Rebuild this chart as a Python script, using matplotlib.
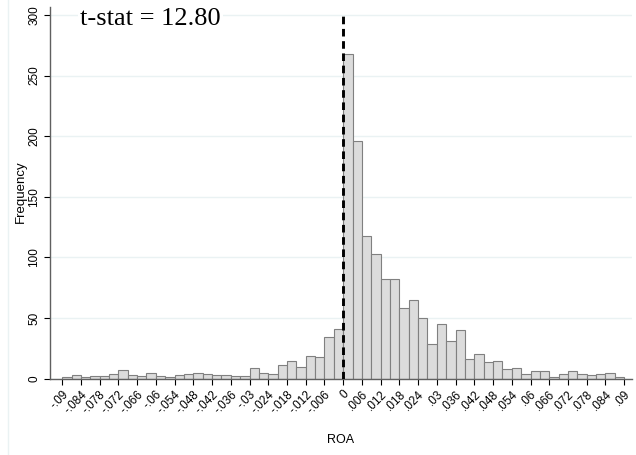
import numpy as np
import matplotlib
matplotlib.use('Agg')
import matplotlib.pyplot as plt

plt.rcParams['font.family'] = ['Liberation Sans', 'DejaVu Sans']

# histogram of ROA, bins of width .003 from -.09 to .09
BIN_START = -0.09
BIN_WIDTH = 0.003
counts = [
    1, 3, 1, 2, 2, 4, 7, 3, 2, 5,
    2, 1, 3, 4, 5, 4, 3, 3, 2, 2,
    9, 5, 4, 11, 15, 10, 19, 18, 34, 41,
    268, 196, 118, 103, 82, 82, 58, 65, 50, 29,
    45, 31, 40, 16, 20, 14, 15, 8, 9, 4,
    6, 6, 1, 4, 6, 4, 3, 4, 5, 1,
]
xticks = np.round(np.arange(-0.09, 0.0901, 0.006), 3)
yticks = [0, 50, 100, 150, 200, 250, 300]
tstat_text = 't-stat = 12.80'


def stata_fmt(v):
    if v == 0:
        return '0'
    s = ('%g' % v)
    return s.replace('0.', '.')


fig = plt.figure(figsize=(6.36, 4.55), dpi=100)
ax = fig.add_axes([0.0786, 0.1677, 0.9151, 0.8169])

lefts = BIN_START + BIN_WIDTH * np.arange(len(counts))
ax.bar(lefts, counts, width=BIN_WIDTH, align='edge',
       color='#dcdcdc', edgecolor='#808080', linewidth=0.8, zorder=2)

ax.axvline(0, ymin=0, ymax=300 / 306.5, color='k', lw=2.1,
           dashes=(2.6, 1.6), zorder=3)

ax.set_xlim(-0.0939, 0.0925)
ax.set_ylim(0, 306.5)

ax.set_yticks(yticks)
ax.set_yticklabels([str(v) for v in yticks], rotation=90, va='center',
                   fontsize=8.5)
ax.set_xticks(xticks)
ax.set_xticklabels([stata_fmt(v) for v in xticks], rotation=45,
                   ha='right', rotation_mode='anchor', fontsize=8.5)
ax.tick_params(axis='both', length=4, width=0.8, color='k', pad=3)

ax.grid(axis='y', color='#eaf2f3', lw=1.0, zorder=0)
ax.set_axisbelow(True)

for side in ['top', 'right']:
    ax.spines[side].set_visible(False)
for side in ['left', 'bottom']:
    ax.spines[side].set_color('#606060')
    ax.spines[side].set_linewidth(1.0)

ax.set_xlabel('ROA', fontsize=9, va='center')
ax.xaxis.set_label_coords(0.5, -0.1636)
ax.set_ylabel('Frequency', fontsize=9.5, va='center')
ax.yaxis.set_label_coords(-0.0507, 0.504)

ax.text(-0.0843, 297, tstat_text, family=['Liberation Serif', 'DejaVu Serif'],
        fontsize=19, ha='left', va='center', zorder=4,
        bbox=dict(facecolor='white', edgecolor='none', pad=1.5))

# faint graph region border on the left
fig.add_artist(plt.Line2D([8 / 636, 8 / 636], [0, 1],
                          transform=fig.transFigure, color='#eaf2f3', lw=1))

fig.savefig('out.png', dpi=100)
